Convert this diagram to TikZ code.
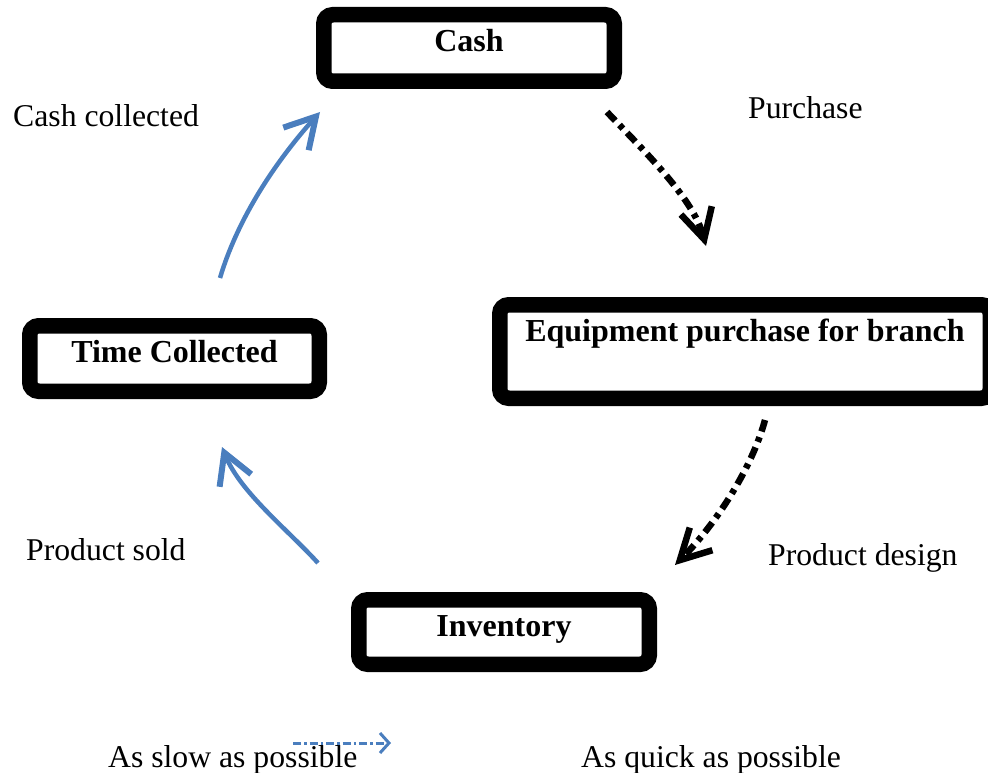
\documentclass[tikz,border=0pt]{standalone}
\usepackage{fontspec}
\setmainfont{Liberation Serif}
\usetikzlibrary{arrows.meta}
\definecolor{arrowblue}{RGB}{74,126,190}
\tikzset{
  cyclebox/.style={draw=black, line width=15.5pt, rounded corners=9pt, fill=white,
    inner sep=0pt, font=\fontsize{32}{36}\selectfont\bfseries, text height=22pt, text depth=14pt},
  lbl/.style={anchor=base west, inner sep=0pt, font=\fontsize{31.7}{36}\selectfont},
  blackflow/.style={line width=6.5pt, dash pattern=on 12pt off 6pt on 5pt off 6pt,
    -{Straight Barb[length=30pt,width=32pt,line width=6.5pt]}},
  blueflow/.style={draw=arrowblue, line width=4.5pt,
    -{Straight Barb[length=30pt,width=34pt,line width=6pt]}},
  legendflow/.style={draw=arrowblue, line width=3pt, dash pattern=on 8pt off 3pt on 2.5pt off 3pt,
    -{Straight Barb[length=9pt,width=20pt,line width=3pt]}}
}
\begin{document}
\begin{tikzpicture}[x=1pt, y=-1pt]
\useasboundingbox (0,0) rectangle (988,773);
\begin{scope}
\clip (0,0) rectangle (988,773);
\node[cyclebox, minimum width=290.5pt, minimum height=66.5pt] (cash) at (469,48) {Cash};
\node[cyclebox, minimum width=490.5pt, minimum height=93.5pt, text height=22pt, text depth=43pt] (equip) at (745,351.5) {Equipment purchase for branch};
\node[cyclebox, minimum width=289.5pt, minimum height=65.5pt] (time) at (174.5,358.5) {Time Collected};
\node[cyclebox, minimum width=290.5pt, minimum height=64.5pt] (inv) at (504,632) {Inventory};
\end{scope}

\coordinate (p1) at (607,112);
\coordinate (p2) at (706,246);
\draw[blackflow] (p1) .. controls (645,152) and (693,198) .. (p2);

\coordinate (d1) at (765,420);
\coordinate (d2) at (675,565);
\draw[blackflow] (d1) .. controls (752,468) and (716,524) .. (d2);

\coordinate (s1) at (318,563);
\coordinate (s2) at (222,447);
\draw[blueflow] (s1) .. controls (288,530) and (240,492) .. (s2);

\coordinate (c1) at (220,278);
\coordinate (c2) at (320,112);
\draw[blueflow] (c1) .. controls (236,224) and (270,168) .. (c2);

\node[lbl] (tcashcol) at (13,127) {Cash collected};
\node[lbl] (tpurch) at (748,119) {Purchase};
\node[lbl] (tsold) at (26,560) {Product sold};
\node[lbl] (tdesign) at (768,565) {Product design};
\node[lbl] (tslow) at (108,767) {As slow as possible};
\node[lbl] (tquick) at (581,767) {As quick as possible};

\coordinate (l1) at (293,743);
\coordinate (l2) at (391,743);
\draw[legendflow] (l1) -- (l2);
\end{tikzpicture}
\end{document}
